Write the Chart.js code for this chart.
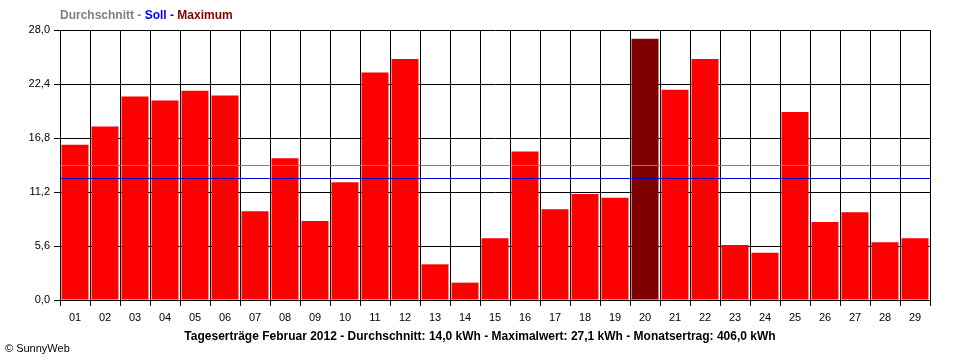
<!DOCTYPE html>
<html>
<head>
<meta charset="utf-8">
<script src="https://cdn.jsdelivr.net/npm/chart.js@4/dist/chart.umd.min.js"></script>
<style>
	html, body { margin: 0; padding: 0; background: #fff; }
	#wrap { position: relative; width: 960px; height: 360px; }
</style>
</head>
<body>
<div id="wrap"><canvas id="chart" width="960" height="360"></canvas></div>
<script>
// days of February 2012
const dayLabels = ['01','02','03','04','05','06','07','08','09','10','11','12','13','14','15','16','17','18','19','20','21','22','23','24','25','26','27','28','29'];
// daily yield in kWh
const dayValues = [16.1, 18.0, 21.1, 20.7, 21.7, 21.2, 9.2, 14.7, 8.2, 12.2, 23.6, 25.0, 3.7, 1.8, 6.4, 15.4, 9.4, 11.0, 10.6, 27.1, 21.8, 25.0, 5.7, 4.9, 19.5, 8.1, 9.1, 6.0, 6.4];
const yTickValues = [0, 5.6, 11.2, 16.8, 22.4, 28.0];
const yTickLabels = ['0,0', '5,6', '11,2', '16,8', '22,4', '28,0'];
const averageValue = 14.0; // Durchschnitt
const targetValue = 12.7;  // Soll
const headerParts = [
	{ text: 'Durchschnitt - ', color: '#808080' },
	{ text: 'Soll - ', color: '#0000ff' },
	{ text: 'Maximum', color: '#800000' },
];
const footerTitle = 'Tageserträge Februar 2012 - Durchschnitt: 14,0 kWh - Maximalwert: 27,1 kWh - Monatsertrag: 406,0 kWh';
const copyright = '© SunnyWeb';

const fontFamily = '"Liberation Sans", Arial, sans-serif';
const maxIndex = dayValues.indexOf(Math.max(...dayValues));
const barColors = dayValues.map((v, i) => (i === maxIndex ? '#800000' : '#ff0000'));

// draws the Durchschnitt / Soll lines over the bars and the texts
const overlayPlugin = {
	id: 'overlay',
	afterDatasetsDraw: (chart) => {
		const ctx = chart.ctx;
		const area = chart.chartArea;
		const y = chart.scales.y;
		const drawLevel = (value, color) => {
			let py = Math.round(y.getPixelForValue(value)) + 0.5;
			ctx.save();
			ctx.strokeStyle = color;
			ctx.lineWidth = 1;
			ctx.beginPath();
			ctx.moveTo(area.left, py);
			ctx.lineTo(area.right, py);
			ctx.stroke();
			ctx.restore();
		};
		drawLevel(averageValue, '#808080');
		drawLevel(targetValue, '#0000c0');
	},
	afterDraw: (chart) => {
		const ctx = chart.ctx;
		const area = chart.chartArea;
		ctx.save();
		ctx.textBaseline = 'middle';
		ctx.font = 'bold 12px ' + fontFamily;
		let x = area.left;
		for (let part of headerParts) {
			ctx.fillStyle = part.color;
			ctx.textAlign = 'left';
			ctx.fillText(part.text, x, 16);
			x += ctx.measureText(part.text).width;
		}
		ctx.fillStyle = '#000';
		ctx.textAlign = 'center';
		ctx.font = 'bold 12px ' + fontFamily;
		ctx.fillText(footerTitle, (area.left + area.right) / 2 - 15, 337);
		ctx.font = '11px ' + fontFamily;
		ctx.textAlign = 'left';
		ctx.fillText(copyright, 5, 349);
		ctx.restore();
	},
};

const chart = new Chart(document.getElementById('chart'), {
	type: 'bar',
	data: {
		labels: dayLabels,
		datasets: [
			{
				data: dayValues,
				backgroundColor: barColors,
				borderWidth: 0,
				barPercentage: 0.9,
				categoryPercentage: 1,
			},
		],
	},
	options: {
		responsive: false,
		animation: false,
		devicePixelRatio: 1,
		layout: { padding: { top: 30, right: 30, left: 0, bottom: 0 } },
		plugins: {
			legend: { display: false },
			tooltip: { enabled: false },
		},
		scales: {
			x: {
				grid: { color: '#000', lineWidth: 1, tickLength: 6, offset: true, tickColor: '#000' },
				border: { color: '#000', width: 1 },
				ticks: { color: '#000', font: { family: fontFamily, size: 11 }, padding: 5, maxRotation: 0 },
				afterFit: (scale) => {
					scale.height = 60;
				},
			},
			y: {
				min: 0,
				max: 28,
				grid: { color: '#000', lineWidth: 1, tickLength: 6, tickColor: '#000' },
				border: { color: '#000', width: 1 },
				afterBuildTicks: (scale) => {
					scale.ticks = yTickValues.map((v) => ({ value: v }));
				},
				ticks: {
					color: '#000',
					font: { family: fontFamily, size: 11 },
					padding: 4,
					callback: (value, index) => yTickLabels[index],
				},
				afterFit: (scale) => {
					scale.width = 60;
				},
			},
		},
	},
	plugins: [overlayPlugin],
});
</script>
</body>
</html>
